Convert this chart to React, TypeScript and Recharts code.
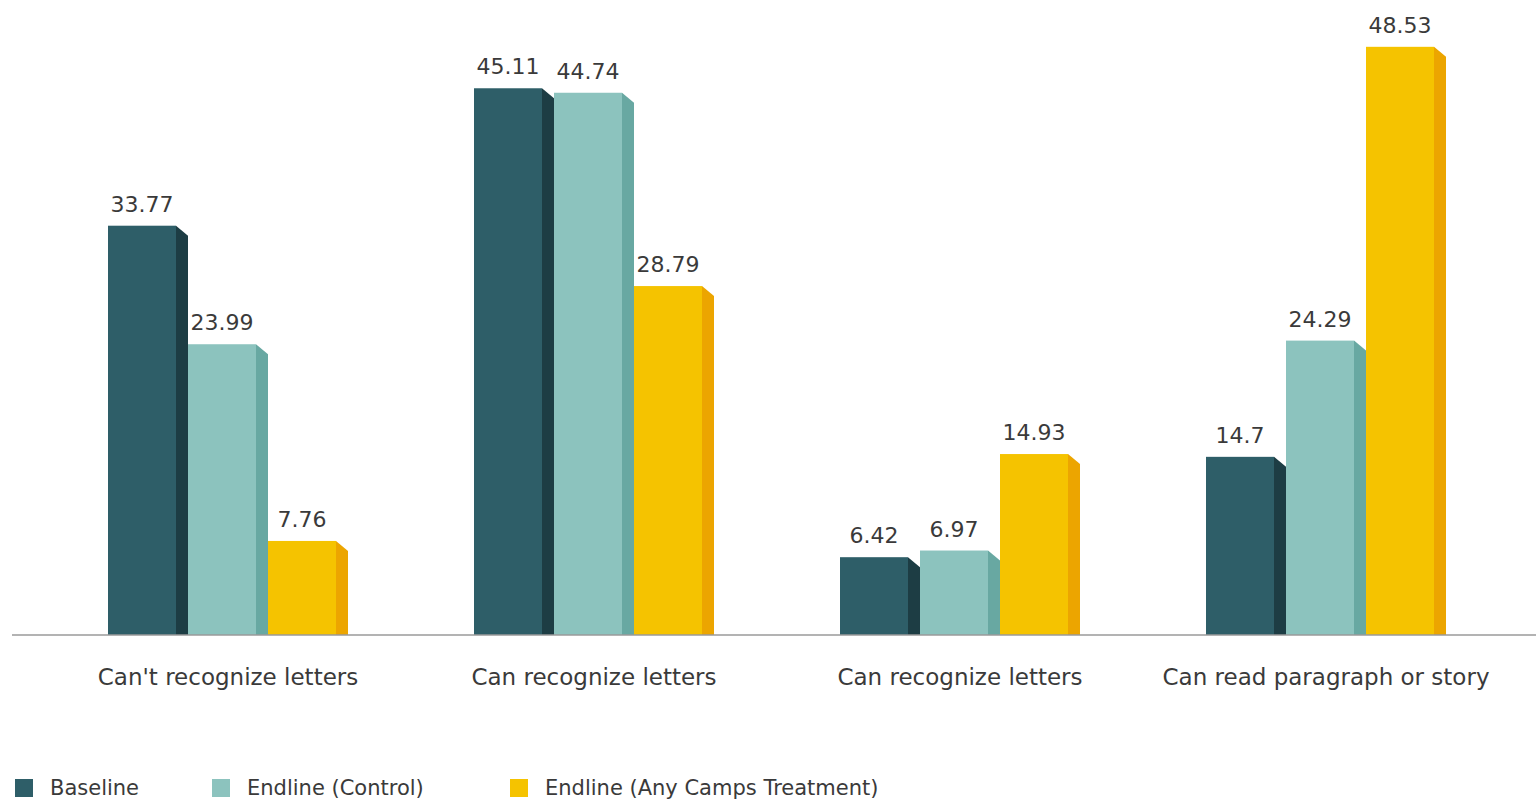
import { Bar, BarChart, LabelList, XAxis, YAxis } from "recharts";

const categories = [
	"Can't recognize letters",
	"Can recognize letters",
	"Can recognize letters",
	"Can read paragraph or story",
];
const baseline = [33.77, 45.11, 6.42, 14.7];
const control = [23.99, 44.74, 6.97, 24.29];
const treatment = [7.76, 28.79, 14.93, 48.53];

const series = [
	{ key: "baseline", name: "Baseline", front: "#2e5e68", side: "#1d3d44", legendX: 15 },
	{ key: "control", name: "Endline (Control)", front: "#8cc3be", side: "#68a8a2", legendX: 212 },
	{ key: "treatment", name: "Endline (Any Camps Treatment)", front: "#f5c300", side: "#eca500", legendX: 510 },
];

const data = categories.map((name, i) => ({
	name,
	baseline: baseline[i],
	control: control[i],
	treatment: treatment[i],
}));

const FONT = "'DejaVu Sans', sans-serif";
const FRONT_W = 68;

/** Bar with a darker slanted side face. */
function Block(props: any) {
	const { x, y, width, height, front, side } = props;
	if (!height || height <= 0) return null;
	const fw = FRONT_W;
	const base = y + height;
	return (
		<g>
			<rect x={x} y={y} width={fw} height={height} fill={front} />
			<polygon
				points={`${x + fw},${y} ${x + width},${y + 10} ${x + width},${base} ${x + fw},${base}`}
				fill={side}
			/>
		</g>
	);
}

function ValueLabel(props: any) {
	const { x, y, value } = props;
	return (
		<text x={x + FRONT_W / 2} y={y - 14} textAnchor="middle" fill="#3a3a3a" fontSize={22} fontFamily={FONT}>
			{value}
		</text>
	);
}

export default function App() {
	return (
		<div style={{ position: "absolute", left: 0, top: 0, width: 1536, height: 801, background: "#fff" }}>
			<BarChart
				width={1536}
				height={801}
				data={data}
				barSize={80}
				barGap={0}
				margin={{ top: 29, right: 0, bottom: 106, left: 12 }}
			>
				<YAxis hide domain={[0, 50]} />
				<XAxis
					dataKey="name"
					height={60}
					padding={{ left: 33, right: 27 }}
					tickLine={false}
					axisLine={{ stroke: "#9a9a9a", strokeWidth: 1.5 }}
					tick={{ fill: "#3a3a3a", fontSize: 23, fontFamily: FONT, dy: 26 }}
					interval={0}
				/>
				{series.map((s) => (
					<Bar
						key={s.key}
						dataKey={s.key}
						name={s.name}
						isAnimationActive={false}
						shape={(p: any) => <Block {...p} front={s.front} side={s.side} />}
					>
						<LabelList dataKey={s.key} content={<ValueLabel />} />
					</Bar>
				))}
			</BarChart>
			{series.map((s) => (
				<div
					key={s.key}
					style={{
						position: "absolute",
						left: s.legendX,
						top: 775,
						height: 26,
						display: "flex",
						alignItems: "center",
						fontFamily: FONT,
						fontSize: 21,
						color: "#3a3a3a",
						whiteSpace: "nowrap",
					}}
				>
					<span style={{ width: 18, height: 18, background: s.front, display: "inline-block", marginRight: 17 }} />
					<span>{s.name}</span>
				</div>
			))}
		</div>
	);
}
